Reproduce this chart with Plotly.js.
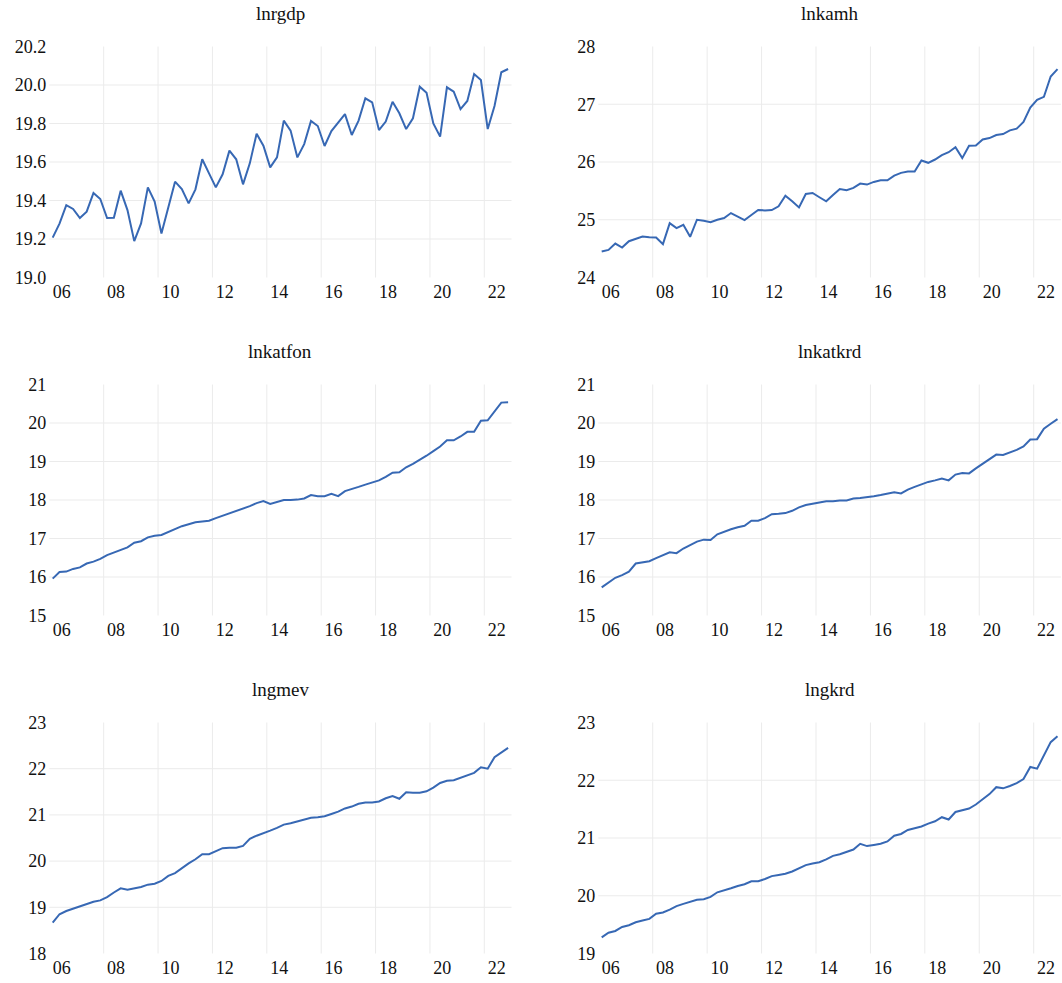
<!DOCTYPE html>
<html><head><meta charset="utf-8">
<script src="https://cdn.plot.ly/plotly-3.0.1.min.js"></script>
<style>html,body{margin:0;padding:0;background:#fff}#chart{width:1062px;height:983px}</style>
</head><body><div id="chart"></div>
<script>
// Quarterly data, 2006Q1 - 2022Q4
const startYear = 2006;
const lnrgdp = [19.207,19.28,19.376,19.356,19.309,19.342,19.439,19.408,19.309,19.31,19.451,19.35,19.189,19.281,19.468,19.395,19.229,19.36,19.498,19.46,19.385,19.458,19.614,19.541,19.468,19.536,19.659,19.614,19.484,19.593,19.747,19.685,19.572,19.624,19.815,19.763,19.624,19.693,19.813,19.787,19.683,19.761,19.806,19.849,19.74,19.815,19.931,19.91,19.766,19.81,19.913,19.853,19.771,19.827,19.991,19.96,19.80,19.732,19.988,19.965,19.875,19.917,20.057,20.026,19.771,19.891,20.066,20.083];
const lnkamh = [24.449,24.478,24.588,24.519,24.629,24.664,24.71,24.699,24.693,24.577,24.942,24.855,24.913,24.704,25.0,24.983,24.959,25.0,25.029,25.116,25.058,24.994,25.081,25.168,25.162,25.168,25.232,25.417,25.319,25.214,25.446,25.464,25.39,25.319,25.429,25.533,25.51,25.551,25.626,25.609,25.655,25.684,25.684,25.765,25.812,25.835,25.835,26.026,25.986,26.043,26.119,26.17,26.258,26.067,26.281,26.287,26.391,26.414,26.467,26.484,26.548,26.577,26.693,26.942,27.075,27.128,27.481,27.609];
const lnkatfon = [15.957,16.13,16.14,16.21,16.25,16.35,16.40,16.47,16.57,16.63,16.70,16.77,16.89,16.93,17.03,17.07,17.09,17.17,17.24,17.32,17.37,17.42,17.44,17.46,17.53,17.59,17.65,17.70,17.77,17.84,17.92,17.97,17.90,17.96,18.0,18.0,18.01,18.04,18.13,18.10,18.10,18.16,18.10,18.23,18.28,18.34,18.40,18.45,18.51,18.60,18.71,18.72,18.85,18.94,19.04,19.15,19.27,19.39,19.55,19.55,19.65,19.77,19.77,20.06,20.07,20.31,20.53,20.54];
const lnkatkrd = [15.73,15.85,15.98,16.05,16.14,16.35,16.39,16.41,16.49,16.56,16.64,16.62,16.74,16.83,16.92,16.97,16.96,17.11,17.18,17.24,17.29,17.33,17.46,17.46,17.53,17.63,17.64,17.66,17.72,17.81,17.87,17.90,17.93,17.97,17.97,17.99,17.99,18.04,18.05,18.07,18.10,18.13,18.17,18.20,18.17,18.27,18.34,18.41,18.47,18.51,18.56,18.51,18.66,18.70,18.69,18.82,18.94,19.08,19.18,19.17,19.23,19.30,19.39,19.57,19.58,19.85,19.98,20.10];
const lngmev = [18.67,18.85,18.92,18.97,19.01,19.07,19.12,19.15,19.22,19.32,19.41,19.38,19.41,19.44,19.49,19.51,19.57,19.68,19.74,19.85,19.95,20.04,20.15,20.15,20.22,20.28,20.29,20.29,20.33,20.48,20.55,20.60,20.66,20.72,20.79,20.82,20.86,20.89,20.94,20.95,20.97,21.02,21.07,21.14,21.18,21.24,21.27,21.27,21.29,21.36,21.41,21.35,21.49,21.48,21.48,21.51,21.59,21.69,21.74,21.75,21.80,21.85,21.91,22.03,22.0,22.25,22.36,22.45];
const lngkrd = [19.28,19.36,19.39,19.46,19.49,19.54,19.57,19.60,19.69,19.71,19.76,19.82,19.86,19.90,19.93,19.94,19.98,20.06,20.09,20.13,20.17,20.20,20.25,20.25,20.29,20.34,20.36,20.38,20.42,20.47,20.53,20.56,20.58,20.63,20.69,20.72,20.76,20.80,20.90,20.86,20.88,20.90,20.94,21.04,21.07,21.14,21.17,21.20,21.25,21.29,21.36,21.32,21.45,21.48,21.51,21.58,21.67,21.76,21.88,21.86,21.90,21.95,22.02,22.23,22.20,22.43,22.66,22.76];

const titles = ["lnrgdp","lnkamh","lnkatfon","lnkatkrd","lngmev","lngkrd"];
const yTicks = [
  [19.0,19.2,19.4,19.6,19.8,20.0,20.2],
  [24,25,26,27,28],
  [15,16,17,18,19,20,21],
  [15,16,17,18,19,20,21],
  [18,19,20,21,22,23],
  [19,20,21,22,23]
];
const yFormats = [".1f","d","d","d","d","d"];
const labelYears = [2006,2008,2010,2012,2014,2016,2018,2020,2022];
const labelText = ["06","08","10","12","14","16","18","20","22"];
const gridYears = [2008,2010,2012,2014,2016,2018,2020,2022];

const series = [lnrgdp,lnkamh,lnkatfon,lnkatkrd,lngmev,lngkrd];

const W = 1062, H = 983;
const colPx = [[49.3,511.5],[598.3,1060.9]];
const rowPx = [[46.5,277.5],[384.5,615.5],[722.5,953.5]];
const lineColor = "#3768b4";
const gridColor = "#ebebeb";
const fontFam = "Liberation Serif";

const traces = [];
const layout = {
  width: W, height: H,
  margin: {l:0,r:0,t:0,b:0},
  paper_bgcolor: "#fff", plot_bgcolor: "#fff",
  showlegend: false,
  font: {family: fontFam, size: 18, color: "#111"},
  shapes: [], annotations: []
};

series.forEach((vals, k) => {
  const col = k % 2, row = Math.floor(k / 2);
  const sfx = k === 0 ? "" : String(k + 1);
  const xs = vals.map((_, i) => startYear + i / 4);
  traces.push({
    x: xs, y: vals, type: "scatter", mode: "lines",
    line: {color: lineColor, width: 2},
    xaxis: "x" + sfx, yaxis: "y" + sfx, hoverinfo: "skip"
  });
  const xd = [colPx[col][0] / W, colPx[col][1] / W];
  const yd = [1 - rowPx[row][1] / H, 1 - rowPx[row][0] / H];
  const yt = yTicks[k];
  layout["xaxis" + sfx] = {
    domain: xd, anchor: "y" + sfx,
    range: [startYear - 0.125, 2022.875],
    tickmode: "array",
    tickvals: labelYears.map(y => y + 0.33),
    ticktext: labelText,
    showgrid: false, zeroline: false, showline: false, ticks: "",
    tickfont: {family: fontFam, size: 18, color: "#111"},
    ticklabelstandoff: 1
  };
  layout["yaxis" + sfx] = {
    domain: yd, anchor: "x" + sfx,
    range: [yt[0], yt[yt.length - 1]],
    tickmode: "array",
    tickvals: yt,
    ticktext: yt.map(v => yFormats[k] === ".1f" ? v.toFixed(1) : String(v)),
    showgrid: false, zeroline: false, showline: false, ticks: "",
    tickfont: {family: fontFam, size: 18, color: "#111"},
    ticklabelstandoff: 2
  };
  // horizontal gridlines at inner ticks
  yt.slice(1, -1).forEach(v => {
    layout.shapes.push({
      type: "line", layer: "below", xref: "x" + sfx + " domain", yref: "y" + sfx,
      x0: 0, x1: 1, y0: v, y1: v, line: {color: gridColor, width: 1}
    });
  });
  // vertical gridlines at year boundaries
  gridYears.forEach(gy => {
    layout.shapes.push({
      type: "line", layer: "below", xref: "x" + sfx, yref: "y" + sfx + " domain",
      x0: gy - 0.125, x1: gy - 0.125, y0: 0, y1: 1, line: {color: gridColor, width: 1}
    });
  });
  layout.annotations.push({
    text: titles[k], xref: "paper", yref: "paper",
    x: (xd[0] + xd[1]) / 2, y: 1 - (rowPx[row][0] - 33) / H,
    xanchor: "center", yanchor: "middle", showarrow: false,
    font: {family: fontFam, size: 19, color: "#111"}
  });
});

Plotly.newPlot("chart", traces, layout, {staticPlot: true, displayModeBar: false});
</script>
</body></html>
